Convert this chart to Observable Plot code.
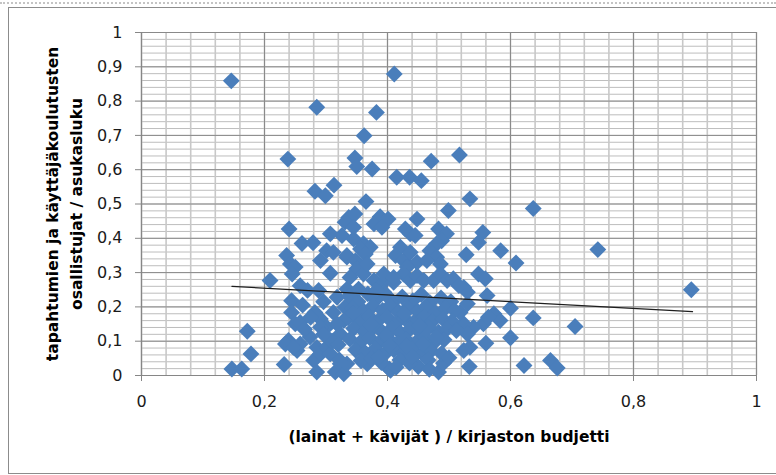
<!DOCTYPE html>
<html>
<head>
<meta charset="utf-8">
<script src="https://cdn.jsdelivr.net/npm/d3@7"></script>
<script src="https://cdn.jsdelivr.net/npm/@observablehq/plot@0.6"></script>
<style>
  html, body { margin: 0; padding: 0; background: #fff; }
  #wrap { position: relative; width: 776px; height: 475px; overflow: hidden; background: #fff; }
  #dots { position: absolute; left: 0; right: 0; top: 2px; height: 0; border-top: 2px dotted #c4c4c4; }
  #frame { position: absolute; left: 8px; top: 7px; width: 820px; height: 465px; border: 1.5px solid #8c8c8c; }
  #chart { position: absolute; left: 0; top: 0; }
</style>
</head>
<body>
<div id="wrap"><div id="dots"></div><div id="frame"></div><div id="chart"></div></div>
<script>
// ---- data: (lainat + kävijät) / kirjaston budjetti  vs  osallistujat / asukasluku
const xs = [
  0.146,0.411,0.285,0.382,0.362,0.238,0.347,0.350,0.375,0.471,0.517,0.415,0.436,0.455,
  0.282,0.299,0.313,0.365,0.534,0.499,0.637,
  0.240,0.337,0.347,0.388,0.401,0.307,0.261,0.279,
  0.331,0.345,0.378,0.391,0.448,0.429,0.437,0.483,0.496,0.488,0.480,0.445,
  0.555,0.548,0.528,0.584,0.609,0.742,0.894,0.637,0.705,0.600,0.600,0.560,0.622,0.665,0.676,0.533,0.483,0.450,0.403,0.491,
  0.548,0.559,0.524,0.530,0.562,0.573,0.583,0.556,0.564,0.540,0.524,0.530,0.534,0.524,0.518,0.530,
  0.301,0.312,0.291,0.236,0.242,0.250,0.245,0.307,0.209,0.258,0.270,0.288,0.244,0.244,0.250,0.282,0.291,0.301,0.312,
  0.172,0.178,0.147,0.163,0.232,0.239,0.234,0.253,0.258,0.274,0.285,0.280,0.291,0.301,0.307,0.285,0.315,
  0.334,0.331,0.329,0.323,0.334,
  0.326,0.345,0.361,0.372,0.334,0.356,0.348,0.364,0.421,0.413,0.426,0.437,0.448,0.432,0.469,0.480,0.464,0.486,
  0.350,0.361,0.339,0.378,0.388,0.399,0.410,0.394,0.426,0.437,0.448,0.459,0.475,0.486,0.497,0.507,0.516,
  0.323,0.329,0.405,0.334,0.367,0.367,0.394,0.410,
  0.258,0.247,0.291,0.307,0.318,0.310,0.296,0.322,0.262,0.296,0.318,0.275,0.265,0.320,
  0.338,0.352,0.368,0.381,0.397,0.409,0.424,0.441,0.455,0.469,0.487,0.503,
  0.343,0.361,0.376,0.392,0.404,0.418,0.433,0.449,0.462,0.478,0.494,0.509,
  0.336,0.354,0.370,0.385,0.399,0.414,0.428,0.444,0.459,0.473,0.490,0.505,
  0.345,0.362,0.378,0.392,0.407,0.421,0.437,0.452,0.467,0.483,0.497,0.512,
  0.339,0.356,0.371,0.386,0.401,0.416,0.430,0.447,0.461,0.476,0.492,
  0.348,0.364,0.380,0.395,0.410,0.425,0.440,0.457,0.471,0.488,
  0.357,0.374,0.390,0.420,0.436,0.466,0.500,
  0.344,0.372,0.398,0.427,0.452,0.479,0.403,0.431,0.458,0.386,0.414,0.441,0.468,0.353,0.382
];
const ys = [
  0.859,0.879,0.782,0.767,0.699,0.631,0.634,0.609,0.602,0.625,0.643,0.578,0.578,0.568,
  0.537,0.524,0.555,0.507,0.515,0.481,0.487,
  0.427,0.461,0.471,0.463,0.456,0.413,0.385,0.387,
  0.447,0.432,0.442,0.432,0.456,0.427,0.413,0.427,0.413,0.393,0.384,0.408,
  0.417,0.388,0.352,0.364,0.328,0.367,0.250,0.168,0.143,0.196,0.110,0.094,0.029,0.044,0.022,0.026,0.010,0.026,0.019,0.036,
  0.296,0.282,0.257,0.243,0.233,0.180,0.160,0.151,0.170,0.141,0.151,0.121,0.082,0.073,0.184,0.209,
  0.364,0.359,0.335,0.350,0.325,0.316,0.296,0.298,0.277,0.262,0.248,0.248,0.218,0.184,0.151,0.184,0.165,0.141,0.184,
  0.129,0.063,0.019,0.019,0.032,0.102,0.092,0.073,0.092,0.112,0.082,0.044,0.063,0.082,0.063,0.010,0.010,
  0.345,0.199,0.160,0.121,0.252,
  0.408,0.398,0.384,0.374,0.350,0.369,0.335,0.354,0.374,0.350,0.335,0.359,0.330,0.316,0.364,0.345,0.335,0.325,
  0.311,0.296,0.286,0.277,0.262,0.282,0.272,0.243,0.296,0.277,0.291,0.277,0.277,0.296,0.277,0.282,0.262,
  0.034,0.005,0.015,0.034,0.034,0.325,0.296,0.286,
  0.155,0.082,0.141,0.102,0.150,0.100,0.120,0.045,0.205,0.215,0.228,0.170,0.135,0.090,
  0.232,0.215,0.238,0.221,0.236,0.214,0.229,0.218,0.236,0.212,0.226,0.215,
  0.196,0.188,0.202,0.190,0.203,0.185,0.198,0.187,0.200,0.183,0.196,0.190,
  0.168,0.158,0.172,0.160,0.171,0.152,0.166,0.157,0.171,0.158,0.165,0.158,
  0.137,0.128,0.141,0.126,0.138,0.124,0.136,0.127,0.140,0.126,0.136,0.131,
  0.106,0.097,0.110,0.095,0.108,0.094,0.105,0.098,0.111,0.096,0.104,
  0.074,0.066,0.078,0.062,0.075,0.066,0.077,0.063,0.072,0.064,
  0.043,0.050,0.038,0.045,0.036,0.045,0.052,
  0.181,0.148,0.117,0.180,0.145,0.112,0.088,0.086,0.092,0.053,0.024,0.055,0.018,0.252,0.248
];
// linear trend line (Excel) endpoints
const trendX = [0.147, 0.896];
const trendY = [0.260, 0.186];

const xTicks = [0, 0.2, 0.4, 0.6, 0.8, 1];
const xTickLabels = ["0", "0,2", "0,4", "0,6", "0,8", "1"];
const yTicks = [0, 0.1, 0.2, 0.3, 0.4, 0.5, 0.6, 0.7, 0.8, 0.9, 1];
const yTickLabels = ["0", "0,1", "0,2", "0,3", "0,4", "0,5", "0,6", "0,7", "0,8", "0,9", "1"];
const xLabel = "(lainat + kävijät ) / kirjaston budjetti";
const yLabel1 = "tapahtumien ja käyttäjäkoulutusten";
const yLabel2 = "osallistujat / asukasluku";

const points = xs.map((x, i) => ({x, y: ys[i]}));
const trend = trendX.map((x, i) => ({x, y: trendY[i]}));
const xMinor = d3.range(0, 26).map(i => i * 0.04);
const yMinor = d3.range(0, 51).map(i => i * 0.02);

const FONT = "DejaVu Sans";
const chart = Plot.plot({
  width: 776,
  height: 475,
  marginLeft: 141,
  marginRight: 20,
  marginTop: 32,
  marginBottom: 100,
  style: {background: "transparent", fontFamily: FONT},
  x: {domain: [0, 1]},
  y: {domain: [0, 1]},
  marks: [
    Plot.ruleY(yMinor, {stroke: "#bdbdbd", strokeWidth: 1}),
    Plot.ruleX(xMinor, {stroke: "#c8c8c8", strokeWidth: 1.6}),
    Plot.ruleY(yTicks, {stroke: "#8a8a8a", strokeWidth: 1}),
    Plot.ruleX(xTicks, {stroke: "#8a8a8a", strokeWidth: 1}),
    Plot.ruleX([0], {stroke: "#868686", strokeWidth: 1.2}),
    Plot.ruleY([0], {stroke: "#868686", strokeWidth: 1.2}),
    Plot.axisX({ticks: xTicks, tickSize: 6, tickPadding: 14, stroke: "#868686", fill: "#1a1a1a",
      fontSize: 16, fontFamily: FONT, label: null,
      tickFormat: d => xTickLabels[xTicks.indexOf(d)]}),
    Plot.axisY({ticks: yTicks, tickSize: 6, tickPadding: 13, stroke: "#868686", fill: "#1a1a1a",
      fontSize: 16, fontFamily: FONT, label: null,
      tickFormat: d => yTickLabels[yTicks.indexOf(d)]}),
    Plot.dot(points, {x: "x", y: "y", symbol: "diamond2", r: 7.6, fill: "#4a7ebb", stroke: "none"}),
    Plot.line(trend, {x: "x", y: "y", stroke: "#1e1e1e", strokeWidth: 1.2}),
    Plot.text([xLabel], {frameAnchor: "bottom", dy: 66.5, lineAnchor: "bottom", fontWeight: "bold",
      fontSize: 15.5, fontFamily: FONT, fill: "#000"}),
    Plot.text([yLabel1], {frameAnchor: "left", dx: -84, rotate: -90, textAnchor: "middle", lineAnchor: "bottom",
      fontWeight: "bold", fontSize: 15.5, fontFamily: FONT, fill: "#000"}),
    Plot.text([yLabel2], {frameAnchor: "left", dx: -60, rotate: -90, textAnchor: "middle", lineAnchor: "bottom",
      fontWeight: "bold", fontSize: 15.5, fontFamily: FONT, fill: "#000"})
  ]
});
document.getElementById("chart").appendChild(chart);
</script>
</body>
</html>
